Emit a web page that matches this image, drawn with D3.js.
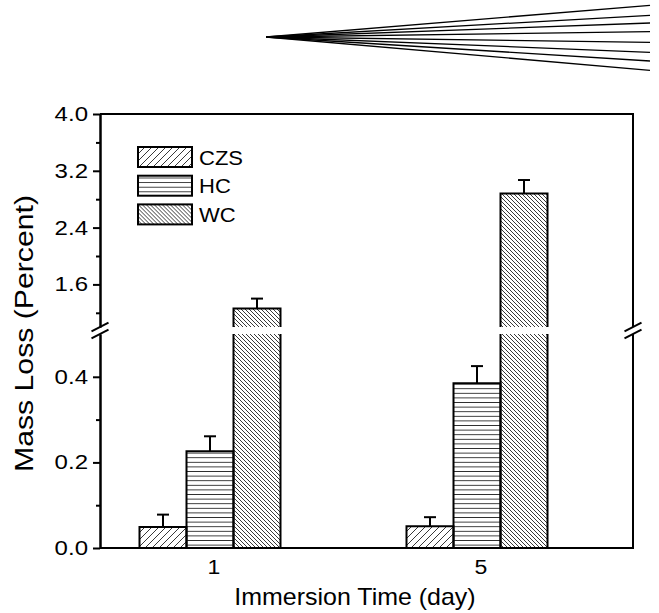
<!DOCTYPE html>
<html>
<head>
<meta charset="utf-8">
<script src="https://cdn.jsdelivr.net/npm/d3@7"></script>
<style>
  body { margin: 0; background: #fff; }
  text { font-family: "Liberation Sans", Arial, sans-serif; fill: #000; }
</style>
</head>
<body>
<svg id="chart" width="659" height="613"></svg>
<script>
// data
const days = ["1", "5"];
const series = ["CZS", "HC", "WC"];
const czs = [0.049, 0.051];
const hc = [0.226, 0.385];
const wc = [1.26, 2.88];
const czsErr = [0.029, 0.021];
const hcErr = [0.035, 0.040];
const wcErr = [0.14, 0.19];
const lowTicks = [0.0, 0.2, 0.4];
const lowMinor = [0.1, 0.3];
const highTicks = [1.6, 2.4, 3.2, 4.0];
const highMinor = [1.2, 2.0, 2.8, 3.6];

const values = [czs, hc, wc];
const errors = [czsErr, hcErr, wcErr];

const svg = d3.select("#chart");
const plotLeft = 100, plotRight = 633, plotTop = 114, plotBottom = 548;
const lowTop = 0.5, highBottom = 1.0;

// broken y axis: two linear pieces
const yLow = d3.scaleLinear().domain([0, lowTop]).range([plotBottom, 334]);
const yHigh = d3.scaleLinear().domain([highBottom, 4.0]).range([327, plotTop]);
const yOf = v => v <= lowTop ? yLow(v) : yHigh(v);

const x0 = d3.scalePoint().domain(days).range([210, 477]);
const x1 = d3.scaleBand().domain(series).range([-70.5, 70.5]).padding(0);

// the original font is a bit wider than Liberation Sans
function widen(sel, k) {
    sel.each(function() {
        const len = this.getComputedTextLength();
        d3.select(this).attr("textLength", len * k).attr("lengthAdjust", "spacingAndGlyphs");
    });
}

// hatch patterns
const defs = svg.append("defs");
function hatch(id, w, h, d) {
    defs.append("pattern")
        .attr("id", id)
        .attr("patternUnits", "userSpaceOnUse")
        .attr("width", w).attr("height", h)
        .append("path")
        .attr("d", d)
        .attr("stroke", "#222")
        .attr("stroke-width", 0.9)
        .attr("fill", "none");
}
hatch("p-CZS", 7, 7, "M-1,1 L1,-1 M0,7 L7,0 M6,8 L8,6");
hatch("p-HC", 10, 4.6, "M0,2.3 H10");
hatch("p-WC", 4, 4, "M-1,3 L1,5 M0,0 L4,4 M3,-1 L5,1");
const fillOf = s => "url(#p-" + s + ")";

// decoration fan at the top
const fanEnds = [5.3, 15.3, 23, 31.7, 42.3, 52.3, 61, 70.3];
svg.append("g").selectAll("line")
    .data(fanEnds)
    .enter()
    .append("line")
    .attr("x1", 266).attr("y1", 37)
    .attr("x2", 650).attr("y2", d => d)
    .attr("stroke", "#000")
    .attr("stroke-width", 1.3);

// bars
const bars = svg.append("g").attr("class", "bars");
series.forEach((s, j) => {
    days.forEach((day, i) => {
        const v = values[j][i];
        const x = x0(day) + x1(s);
        const w = x1.bandwidth();
        let outline;
        if (v <= lowTop) {
            bars.append("rect")
                .attr("x", x).attr("y", yLow(v))
                .attr("width", w).attr("height", yLow(0) - yLow(v))
                .attr("fill", fillOf(s));
            outline = "M" + x + "," + yLow(0) + "V" + yLow(v) + "H" + (x + w) + "V" + yLow(0);
        } else {
            bars.append("rect")
                .attr("x", x).attr("y", yLow(lowTop))
                .attr("width", w).attr("height", yLow(0) - yLow(lowTop))
                .attr("fill", fillOf(s));
            bars.append("rect")
                .attr("x", x).attr("y", yHigh(v))
                .attr("width", w).attr("height", yHigh(highBottom) - yHigh(v))
                .attr("fill", fillOf(s));
            outline = "M" + x + "," + yLow(0) + "V" + yLow(lowTop)
                + "M" + (x + w) + "," + yLow(lowTop) + "V" + yLow(0)
                + "M" + x + "," + yHigh(highBottom) + "V" + yHigh(v)
                + "H" + (x + w) + "V" + yHigh(highBottom);
        }
        bars.append("path")
            .attr("d", outline)
            .attr("fill", "none")
            .attr("stroke", "#000")
            .attr("stroke-width", 2);

        // error bar, upper half only
        const cx = x + w / 2;
        const yt = yOf(v + errors[j][i]);
        bars.append("line")
            .attr("x1", cx).attr("x2", cx)
            .attr("y1", yOf(v)).attr("y2", yt)
            .attr("stroke", "#000").attr("stroke-width", 2);
        bars.append("line")
            .attr("x1", cx - 6).attr("x2", cx + 6)
            .attr("y1", yt).attr("y2", yt)
            .attr("stroke", "#000").attr("stroke-width", 2);
    });
});

// y axes (left), major + minor
function yAxis(scale, major, minor) {
    const g = svg.append("g").attr("transform", "translate(" + plotLeft + ",0)");
    g.call(d3.axisLeft(scale).tickValues(major).tickSize(7).tickSizeOuter(0).tickPadding(5)
        .tickFormat(d3.format(".1f")));
    g.append("g").call(d3.axisLeft(scale).tickValues(minor).tickSize(4).tickSizeOuter(0).tickFormat(""));
    g.selectAll("path.domain").attr("stroke", "#000").attr("stroke-width", 2);
    g.selectAll(".tick line").attr("stroke", "#000").attr("stroke-width", 2);
    g.selectAll(".tick text")
        .attr("font-size", 20)
        .attr("font-family", "'Liberation Sans', Arial, sans-serif")
        .attr("fill", "#000")
        .call(widen, 1.2);
}
yAxis(yLow, lowTicks, lowMinor);
yAxis(yHigh, highTicks, highMinor);

// frame: top, right (broken), bottom
const frame = svg.append("g")
    .attr("fill", "none")
    .attr("stroke", "#000")
    .attr("stroke-width", 2);
frame.append("path")
    .attr("d", "M" + plotLeft + "," + plotTop + "H" + plotRight + "V" + yHigh(highBottom)
        + "M" + plotRight + "," + yLow(lowTop) + "V" + plotBottom + "H" + plotLeft);

// break marks on both sides
[plotLeft, plotRight].forEach(ax => {
    [yHigh(highBottom), yLow(lowTop)].forEach(by => {
        frame.append("line")
            .attr("x1", ax - 8.5).attr("y1", by + 4.3)
            .attr("x2", ax + 8.5).attr("y2", by - 4.3);
    });
});

// x category labels
svg.append("g").selectAll("text")
    .data(days)
    .enter()
    .append("text")
    .attr("x", d => x0(d) + 4)
    .attr("y", 574)
    .attr("text-anchor", "middle")
    .attr("font-size", 20)
    .text(d => d)
    .call(widen, 1.15);

// axis titles
svg.append("text")
    .attr("x", 355).attr("y", 605)
    .attr("text-anchor", "middle")
    .attr("font-size", 24)
    .text("Immersion Time (day)")
    .call(widen, 1.04);

svg.append("text")
    .attr("transform", "translate(33,333.5) rotate(-90)")
    .attr("text-anchor", "middle")
    .attr("font-size", 25)
    .attr("textLength", 277)
    .attr("lengthAdjust", "spacingAndGlyphs")
    .text("Mass Loss (Percent)");

// legend
const legend = svg.append("g").selectAll("g")
    .data(series)
    .enter()
    .append("g")
    .attr("transform", (d, i) => "translate(138," + (147 + i * 28.7) + ")");
legend.append("rect")
    .attr("width", 54).attr("height", 20)
    .attr("fill", d => fillOf(d))
    .attr("stroke", "#000")
    .attr("stroke-width", 2);
legend.append("text")
    .attr("x", 61).attr("y", 17.5)
    .attr("font-size", 20)
    .text(d => d)
    .call(widen, 1.1);
</script>
</body>
</html>
